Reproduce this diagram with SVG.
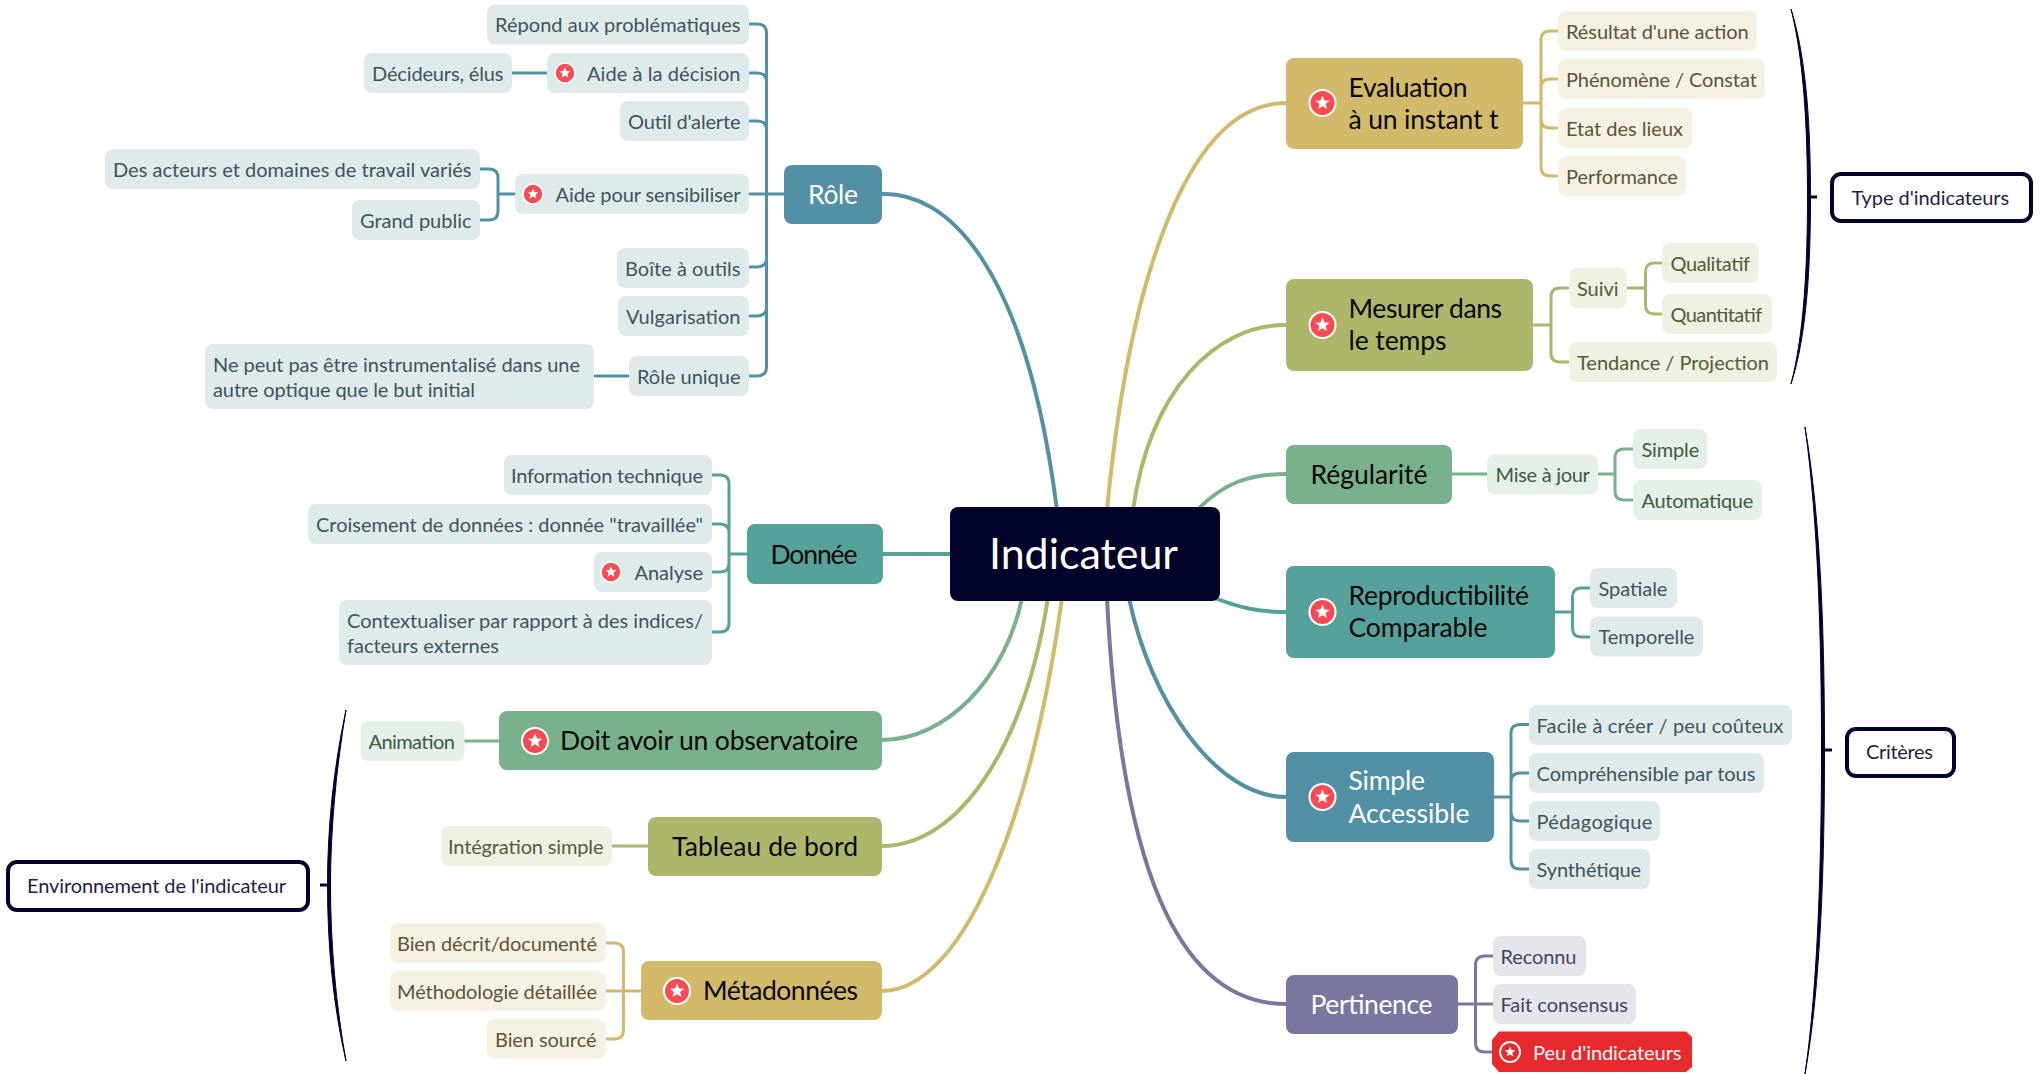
<svg xmlns="http://www.w3.org/2000/svg" width="2040" height="1074" viewBox="0 0 2040 1074">
<defs>
<style>
text{font-family:"Lato","Noto Sans",sans-serif}
.s{font-size:20px;transform:translateY(.5px)}
.m{font-size:26.500px;transform:translateY(-.5px)}
.w{fill:#fff}
.k{fill:#080808}
.tb{fill:#3d5459}.fb{fill:#dfebeb}
.ty{fill:#5b5536}.fy{fill:#f6f2e3}
.to{fill:#555a36}.fo{fill:#eff1e2}
.tg{fill:#3c5a47}.fg{fill:#e4f0e8}
.tp{fill:#44435a}.fp{fill:#e5e5ec}
.box{fill:#fff;stroke:#02022e;stroke-width:4}
.tn{fill:#1f1f45}
.l{fill:none;stroke-width:3;stroke-linecap:round}
.c{fill:none;stroke-width:4}
.br{fill:#02022e;stroke:#02022e;stroke-width:1;stroke-linejoin:round}
.st{fill:none;stroke:#02022e;stroke-width:3}
.cb{stroke:#5291a5}.cd{stroke:#54a299}.cg{stroke:#78b18b}.co{stroke:#aeb66b}.cy{stroke:#d2ba6b}.cp{stroke:#7976a0}
.bb{fill:#5291a5}.bd{fill:#54a299}.bg{fill:#78b18b}.bo{fill:#aeb66b}.by{fill:#d2ba6b}.bp{fill:#7976a0}
</style>
<g id="star">
<circle r="10" fill="#f94a53" stroke="#fff" stroke-width="1.600"/>
<polygon fill="#fff" points="0,-5.800 1.600,-2 5.600,-1.800 2.400,0.700 3.500,4.700 0,2.500 -3.500,4.700 -2.400,0.700 -5.600,-1.800 -1.600,-2"/>
</g>
</defs>

<g id="connectors">
<path class="c cb" d="M882 194C945 192 1025 260 1057 510"/>
<path class="c cd" d="M882 554H952"/>
<path class="c cg" d="M882 740C945 740 1005 680 1022 598"/>
<path class="c co" d="M882 846C960 846 1025 745 1048 598"/>
<path class="c cy" d="M882 991C960 991 1030 830 1062 598"/>
<path class="c cy" d="M1286 103C1190 103 1130 270 1107 510"/>
<path class="c co" d="M1286 325C1215 325 1150 390 1133 510"/>
<path class="c cg" d="M1286 474C1250 474 1225 482 1197 510"/>
<path class="c cd" d="M1286 612C1260 612 1240 608 1215 598"/>
<path class="c cb" d="M1286 797C1215 797 1150 700 1129 598"/>
<path class="c cp" d="M1286 1004C1175 1004 1120 860 1107 598"/>

<path class="l cb" d="M749 24H757Q766.500 24 766.500 33V367Q766.500 376 757 376H749M749 73H757Q766.500 73 766.500 82M749 121H757Q766.500 121 766.500 130M749 267H757Q766.500 267 766.500 258M749 316H757Q766.500 316 766.500 307M749 194H784M512 73H547M480 169H489Q498 169 498 178V211Q498 220 489 220H480M498 194H515M593 376H629"/>
<path class="l cd" d="M712 475H720Q729 475 729 484V623Q729 632 720 632H712M712 524H720Q729 524 729 533M712 572H720Q729 572 729 563M729 554H747"/>
<path class="l cy" d="M1523 103H1541M1558 31H1550Q1541 31 1541 40V167Q1541 176 1550 176H1558M1558 79H1550Q1541 79 1541 88M1558 128H1550Q1541 128 1541 119"/>
<path class="l co" d="M1533 325H1551M1569 288H1560Q1551 288 1551 297V353Q1551 362 1560 362H1569M1627 288H1645.500M1662 263H1654Q1645.500 263 1645.500 272V305Q1645.500 314 1654 314H1662"/>
<path class="l cg" d="M1452 474H1487M1598 474H1615M1633 449H1624Q1615 449 1615 458V491Q1615 500 1624 500H1633"/>
<path class="l cd" d="M1555 612H1572.500M1590 588H1581Q1572.500 588 1572.500 597V628Q1572.500 637 1581 637H1590"/>
<path class="l cb" d="M1494 797H1511M1529 724.500H1520Q1511 724.500 1511 733V860Q1511 869 1520 869H1529M1529 773H1520Q1511 773 1511 782M1529 821H1520Q1511 821 1511 812"/>
<path class="l cp" d="M1458 1004H1493M1493 956H1485Q1475.500 956 1475.500 965V1043Q1475.500 1052 1485 1052H1493"/>
<path class="l cg" d="M464 741H499"/>
<path class="l co" d="M612 846H648"/>
<path class="l cy" d="M606 943H614Q623.500 943 623.500 952V1030Q623.500 1039 614 1039H606M606 991H641"/>

<path class="br" d="M1791 9C1804 60 1807.500 130 1807.500 197C1807.500 265 1804 335 1791 384C1807 335 1810.500 265 1810.500 197C1810.500 130 1807 60 1791 9Z"/>
<path class="st" d="M1809 197H1817"/>
<path class="br" d="M1805 427C1818 520 1821.500 640 1821.500 750C1821.500 860 1818 985 1805 1074C1821 985 1824.500 860 1824.500 750C1824.500 640 1821 520 1805 427Z"/>
<path class="st" d="M1823 750H1832"/>
<path class="br" d="M346 710C333 770 327.500 830 327.500 885C327.500 945 333 1005 346 1061C336 1005 330.500 945 330.500 885C330.500 830 336 770 346 710Z"/>
<path class="st" d="M329 885H320"/>
</g>

<g id="n-indicateur"><rect x="950" y="507" width="270" height="94" rx="8" fill="#00022a"/><text x="989" y="569" class="w" font-size="43" textLength="189">Indicateur</text></g>

<g id="n-role"><rect x="784" y="165" width="98" height="59" rx="8" class="bb"/><text x="808" y="204" class="m w" textLength="50">Rôle</text></g>
<g id="n-repond"><rect x="487" y="4.500" width="262" height="40" rx="8" class="fb"/><text x="495" y="31" class="s tb" textLength="245.500">Répond aux problématiques</text></g>
<g id="n-decideurs"><rect x="364" y="53" width="148" height="40" rx="8" class="fb"/><text x="372" y="80" class="s tb" textLength="131.500">Décideurs, élus</text></g>
<g id="n-aide-decision"><rect x="547" y="53" width="202" height="40" rx="8" class="fb"/><use href="#star" x="565" y="73"/><text x="587" y="80" class="s tb" textLength="153.500">Aide à la décision</text></g>
<g id="n-outil"><rect x="620" y="101" width="129" height="40" rx="8" class="fb"/><text x="628" y="128" class="s tb" textLength="112.500">Outil d'alerte</text></g>
<g id="n-acteurs"><rect x="105" y="149" width="375" height="40" rx="8" class="fb"/><text x="113" y="176" class="s tb" textLength="358.500">Des acteurs et domaines de travail variés</text></g>
<g id="n-grand-public"><rect x="352" y="200" width="128" height="40" rx="8" class="fb"/><text x="360" y="227" class="s tb" textLength="111.500">Grand public</text></g>
<g id="n-aide-sensibiliser"><rect x="515" y="174" width="234" height="40" rx="8" class="fb"/><use href="#star" x="533" y="194"/><text x="555.500" y="201" class="s tb" textLength="185">Aide pour sensibiliser</text></g>
<g id="n-boite"><rect x="617" y="248" width="132" height="40" rx="8" class="fb"/><text x="625" y="275" class="s tb" textLength="115.500">Boîte à outils</text></g>
<g id="n-vulgarisation"><rect x="618" y="296" width="131" height="40" rx="8" class="fb"/><text x="626" y="323" class="s tb" textLength="114.500">Vulgarisation</text></g>
<g id="n-role-unique"><rect x="629" y="356" width="120" height="40" rx="8" class="fb"/><text x="637" y="383" class="s tb" textLength="103.500">Rôle unique</text></g>
<g id="n-ne-peut"><rect x="205" y="344" width="389" height="65" rx="8" class="fb"/><text x="213" y="371" class="s tb" textLength="367">Ne peut pas être instrumentalisé dans une</text><text x="213" y="396" class="s tb" textLength="262">autre optique que le but initial</text></g>

<g id="n-donnee"><rect x="747" y="524" width="136" height="60" rx="8" class="bd"/><text x="770.500" y="564" class="m k" textLength="87">Donnée</text></g>
<g id="n-information"><rect x="504" y="455" width="208" height="40" rx="8" class="fb"/><text x="511" y="482" class="s tb" textLength="192">Information technique</text></g>
<g id="n-croisement"><rect x="308" y="504" width="404" height="40" rx="8" class="fb"/><text x="316" y="531" class="s tb" textLength="387">Croisement de données : donnée "travaillée"</text></g>
<g id="n-analyse"><rect x="594" y="552" width="118" height="40" rx="8" class="fb"/><use href="#star" x="611" y="572"/><text x="634.500" y="579" class="s tb" textLength="68.500">Analyse</text></g>
<g id="n-contextualiser"><rect x="339" y="600" width="373" height="65" rx="8" class="fb"/><text x="347" y="627" class="s tb" textLength="356">Contextualiser par rapport à des indices/</text><text x="347" y="652" class="s tb" textLength="152">facteurs externes</text></g>

<g id="n-observatoire"><rect x="499" y="711" width="383" height="59" rx="8" class="bg"/><use href="#star" transform="translate(535 741) scale(1.300)"/><text x="560" y="750" class="m k" textLength="298">Doit avoir un observatoire</text></g>
<g id="n-animation"><rect x="360.500" y="721" width="104" height="40" rx="8" class="fg"/><text x="368.500" y="748" class="s tg" textLength="86.500">Animation</text></g>
<g id="n-tableau"><rect x="648" y="817" width="234" height="59" rx="8" class="bo"/><text x="672" y="856" class="m k" textLength="186">Tableau de bord</text></g>
<g id="n-integration"><rect x="441" y="826" width="171" height="40" rx="8" class="fo"/><text x="448" y="853" class="s to" textLength="155.500">Intégration simple</text></g>
<g id="n-metadonnees"><rect x="641" y="961" width="241" height="59" rx="8" class="by"/><use href="#star" transform="translate(677 991) scale(1.300)"/><text x="703" y="1000" class="m k" textLength="155">Métadonnées</text></g>
<g id="n-bien-decrit"><rect x="390" y="923" width="216" height="40" rx="8" class="fy"/><text x="397" y="950" class="s ty" textLength="200">Bien décrit/documenté</text></g>
<g id="n-methodologie"><rect x="390" y="971" width="216" height="40" rx="8" class="fy"/><text x="397" y="998" class="s ty" textLength="200">Méthodologie détaillée</text></g>
<g id="n-bien-source"><rect x="487" y="1019" width="119" height="40" rx="8" class="fy"/><text x="495" y="1046" class="s ty" textLength="101.500">Bien sourcé</text></g>
<g id="n-environnement"><rect x="8" y="862" width="300" height="48" rx="9" class="box"/><text x="27" y="892" class="s tn" textLength="259">Environnement de l'indicateur</text></g>

<g id="n-evaluation"><rect x="1286" y="58" width="237" height="91" rx="8" class="by"/><use href="#star" transform="translate(1322.500 103) scale(1.300)"/><text x="1348.500" y="97" class="m k" textLength="119">Evaluation</text><text x="1348.500" y="129" class="m k" textLength="150">à un instant t</text></g>
<g id="n-resultat"><rect x="1558" y="11" width="199" height="40" rx="8" class="fy"/><text x="1566" y="38" class="s ty" textLength="182.700">Résultat d'une action</text></g>
<g id="n-phenomene"><rect x="1558" y="59" width="207" height="40" rx="8" class="fy"/><text x="1566" y="86" class="s ty" textLength="190.800">Phénomène / Constat</text></g>
<g id="n-etat"><rect x="1558" y="108" width="134" height="40" rx="8" class="fy"/><text x="1566" y="135" class="s ty" textLength="117">Etat des lieux</text></g>
<g id="n-performance"><rect x="1558" y="156" width="128" height="40" rx="8" class="fy"/><text x="1566" y="183" class="s ty" textLength="111.800">Performance</text></g>
<g id="n-mesurer"><rect x="1286" y="279" width="247" height="92" rx="8" class="bo"/><use href="#star" transform="translate(1322.500 325) scale(1.300)"/><text x="1348.500" y="318" class="m k" textLength="153.600">Mesurer dans</text><text x="1348.500" y="350" class="m k" textLength="98">le temps</text></g>
<g id="n-suivi"><rect x="1569" y="268" width="58" height="40" rx="8" class="fo"/><text x="1577" y="295" class="s to" textLength="41.600">Suivi</text></g>
<g id="n-qualitatif"><rect x="1662" y="243" width="97" height="40" rx="8" class="fo"/><text x="1670.500" y="270" class="s to" textLength="79.600">Qualitatif</text></g>
<g id="n-quantitatif"><rect x="1662" y="294" width="110" height="40" rx="8" class="fo"/><text x="1670.500" y="321" class="s to" textLength="91.800">Quantitatif</text></g>
<g id="n-tendance"><rect x="1569" y="342" width="208" height="40" rx="8" class="fo"/><text x="1577" y="369" class="s to" textLength="192">Tendance / Projection</text></g>
<g id="n-type"><rect x="1832" y="174" width="199" height="47" rx="9" class="box"/><text x="1851.500" y="204" class="s tn" textLength="157.700">Type d'indicateurs</text></g>

<g id="n-regularite"><rect x="1286" y="445" width="166" height="59" rx="8" class="bg"/><text x="1310.500" y="484" class="m k" textLength="117">Régularité</text></g>
<g id="n-mise"><rect x="1487" y="454.500" width="111" height="40" rx="8" class="fg"/><text x="1495.500" y="481" class="s tg" textLength="94.400">Mise à jour</text></g>
<g id="n-simple1"><rect x="1633" y="429" width="74" height="40" rx="8" class="fg"/><text x="1641.500" y="456" class="s tg" textLength="57.700">Simple</text></g>
<g id="n-automatique"><rect x="1633" y="480" width="129" height="40" rx="8" class="fg"/><text x="1641.500" y="507" class="s tg" textLength="111.800">Automatique</text></g>
<g id="n-repro"><rect x="1286" y="566" width="269" height="92" rx="8" class="bd"/><use href="#star" transform="translate(1322.500 612) scale(1.300)"/><text x="1348.500" y="605" class="m k" textLength="180.600">Reproductibilité</text><text x="1348.500" y="637" class="m k" textLength="139">Comparable</text></g>
<g id="n-spatiale"><rect x="1590" y="568" width="87" height="40" rx="8" class="fb"/><text x="1598.500" y="595" class="s tb" textLength="68.900">Spatiale</text></g>
<g id="n-temporelle"><rect x="1590" y="616.500" width="113" height="40" rx="8" class="fb"/><text x="1598.500" y="643" class="s tb" textLength="95.900">Temporelle</text></g>
<g id="n-accessible"><rect x="1286" y="752" width="208" height="90" rx="8" class="bb"/><use href="#star" transform="translate(1322.500 797) scale(1.300)"/><text x="1348.500" y="790" class="m w" textLength="76.500">Simple</text><text x="1348.500" y="823" class="m w" textLength="121">Accessible</text></g>
<g id="n-facile"><rect x="1529" y="705" width="263" height="40" rx="8" class="fb"/><text x="1536.500" y="732" class="s tb" textLength="247">Facile à créer / peu coûteux</text></g>
<g id="n-comprehensible"><rect x="1529" y="753" width="235" height="40" rx="8" class="fb"/><text x="1536.500" y="780" class="s tb" textLength="218.900">Compréhensible par tous</text></g>
<g id="n-pedagogique"><rect x="1529" y="801" width="131" height="40" rx="8" class="fb"/><text x="1536.500" y="828" class="s tb" textLength="115.800">Pédagogique</text></g>
<g id="n-synthetique"><rect x="1529" y="849" width="121" height="40" rx="8" class="fb"/><text x="1536.500" y="876" class="s tb" textLength="104.600">Synthétique</text></g>
<g id="n-pertinence"><rect x="1286" y="975" width="172" height="59" rx="8" class="bp"/><text x="1310.500" y="1014" class="m w" textLength="122">Pertinence</text></g>
<g id="n-reconnu"><rect x="1493" y="936" width="93" height="40" rx="8" class="fp"/><text x="1500.500" y="963" class="s tp" textLength="76">Reconnu</text></g>
<g id="n-consensus"><rect x="1493" y="984" width="143" height="40" rx="8" class="fp"/><text x="1500.500" y="1011" class="s tp" textLength="127.500">Fait consensus</text></g>
<g id="n-peu"><polygon points="1499,1031.500 1686,1031.500 1692,1037 1692,1067 1686,1072 1499,1072 1492,1064 1492,1040" fill="#e52b2e"/><circle cx="1510" cy="1052" r="10" fill="#e52b2e" stroke="#fff" stroke-width="1.800"/><polygon fill="#fff" points="1510,1046.500 1511.500,1050.100 1515.300,1050.300 1512.300,1052.700 1513.300,1056.500 1510,1054.400 1506.700,1056.500 1507.700,1052.700 1504.700,1050.300 1508.500,1050.100"/><text x="1533" y="1059" class="s w" textLength="148.500">Peu d'indicateurs</text></g>
<g id="n-criteres"><rect x="1847" y="729" width="107" height="47" rx="9" class="box"/><text x="1866" y="758.500" class="s tn" textLength="66.900">Critères</text></g>
</svg>
